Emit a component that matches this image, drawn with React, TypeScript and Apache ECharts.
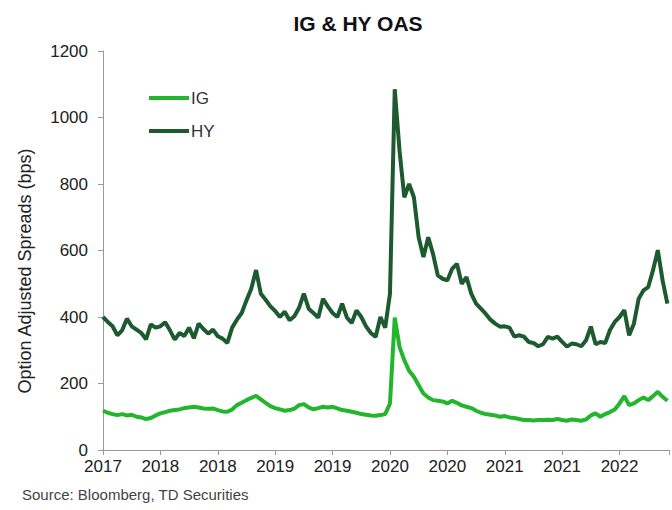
import React, { useEffect, useRef } from "react";
import * as echarts from "echarts";

const TITLE = "IG & HY OAS";
const SOURCE = "Source: Bloomberg, TD Securities";
const Y_NAME = "Option Adjusted Spreads (bps)";
const SERIES_NAMES = ["IG", "HY"];

// x tick labels, one every 6 months starting at the first tick
const xTickLabels = ["2017", "2018", "2018", "2019", "2019", "2020", "2020", "2021", "2021", "2022"];

const igValues = [
  118, 112, 108, 105, 108, 104, 106, 100, 98, 93,
  96, 104, 110, 114, 118, 120, 122, 126, 128, 130,
  128, 125, 124, 125, 120, 116, 115, 122, 135, 142,
  150, 157, 163, 152, 142, 132, 126, 122, 118, 120,
  124, 135, 138, 128, 122, 126, 130, 128, 130, 125,
  120, 118, 115, 112, 108, 106, 104, 103, 105, 108,
  140, 398, 310, 270, 238, 220, 195, 170, 158, 150,
  148, 146, 140, 148, 142, 134, 130, 126, 118, 112,
  108, 106, 104, 100, 102, 98, 96, 93, 90, 90,
  89, 90, 90, 91, 90, 93, 90, 88, 92, 90,
  88, 92, 104, 110, 100, 108, 114, 122, 140, 162,
  135, 140, 150, 158, 150, 162, 175, 160, 148,
];

const hyValues = [
  400, 385, 372, 345, 360, 395, 372, 362, 352, 333,
  378, 368, 372, 384, 360, 332, 352, 343, 368, 336,
  380, 364, 350, 362, 342, 335, 322, 368, 392, 412,
  450, 485, 541, 470, 452, 432, 418, 400, 416, 390,
  402, 428, 470, 425, 412, 398, 455, 432, 412, 400,
  440, 398, 382, 420, 400, 372, 352, 340, 400, 368,
  470, 1085, 900, 760, 800, 760, 640, 580, 640, 590,
  525, 515, 510, 545, 560, 500, 520, 470, 440, 425,
  410, 392, 380, 371, 372, 368, 341, 345, 341, 325,
  322, 312, 318, 340, 335, 341, 325, 311, 320, 318,
  312, 330, 371, 318, 325, 322, 361, 385, 400, 421,
  345, 380, 455, 480, 490, 541, 601, 510, 440,
];

const X_MAX = 59.17; // months shown from the first tick to the cut-off right edge

const FONT = "Liberation Sans, Arial, Helvetica, sans-serif";

export default function App() {
  const ref = useRef<HTMLDivElement>(null);

  useEffect(() => {
    if (!ref.current) return;
    const chart = echarts.init(ref.current, undefined, { renderer: "svg" });
    const toPoints = (vals: number[]) => vals.map((v, i) => [i / 2, v]);

    chart.setOption({
      animation: false,
      backgroundColor: "#ffffff",
      textStyle: { fontFamily: FONT },
      title: {
        text: TITLE,
        left: 353,
        top: 8,
        textAlign: "center",
        textStyle: { fontFamily: FONT, fontSize: 21, fontWeight: "bold", color: "#111" },
      },
      legend: {
        data: SERIES_NAMES,
        orient: "vertical",
        left: 149,
        top: 88,
        padding: 0,
        itemWidth: 40,
        itemHeight: 4,
        itemGap: 13,
        icon: "rect",
        textStyle: { fontFamily: FONT, fontSize: 17, color: "#333", lineHeight: 20, padding: [0, 0, 0, -3] },
      },
      grid: { left: 103, top: 51, right: 0, bottom: 60, containLabel: false },
      xAxis: {
        type: "value",
        min: 0,
        max: X_MAX,
        interval: 6,
        axisLine: { show: true, lineStyle: { color: "#999", width: 1 } },
        axisTick: { show: true, length: 5, lineStyle: { color: "#999" } },
        splitLine: { show: false },
        axisLabel: {
          margin: 8,
          fontFamily: FONT,
          fontSize: 17,
          color: "#222",
          formatter: (v: number) => {
            const k = v / 6;
            if (Math.abs(k - Math.round(k)) > 1e-6) return "";
            return xTickLabels[Math.round(k)] ?? "";
          },
        },
      },
      yAxis: {
        type: "value",
        min: 0,
        max: 1200,
        interval: 200,
        axisLine: { show: true, lineStyle: { color: "#999", width: 1 } },
        axisTick: { show: true, length: 5, lineStyle: { color: "#999" } },
        splitLine: { show: false },
        axisLabel: {
          margin: 15,
          fontFamily: FONT,
          fontSize: 17,
          color: "#222",
          formatter: (v: number) => String(v),
        },
      },
      graphic: [
        {
          type: "text",
          x: 25,
          y: 271,
          rotation: Math.PI / 2,
          style: {
            text: Y_NAME,
            fontFamily: FONT,
            fontSize: 18,
            fill: "#222",
            textAlign: "center",
            textVerticalAlign: "middle",
          },
        },
        {
          type: "text",
          x: 22,
          y: 494,
          style: {
            text: SOURCE,
            fontFamily: FONT,
            fontSize: 15,
            fill: "#444",
            textAlign: "left",
            textVerticalAlign: "middle",
          },
        },
      ],
      series: [
        {
          name: SERIES_NAMES[0],
          type: "line",
          data: toPoints(igValues),
          showSymbol: false,
          symbol: "none",
          lineStyle: { color: "#24b52e", width: 4 },
          itemStyle: { color: "#24b52e" },
          z: 3,
        },
        {
          name: SERIES_NAMES[1],
          type: "line",
          data: toPoints(hyValues),
          showSymbol: false,
          symbol: "none",
          lineStyle: { color: "#1d5a30", width: 4 },
          itemStyle: { color: "#1d5a30" },
          z: 2,
        },
      ],
    });

    return () => chart.dispose();
  }, []);

  return (
    <div
      ref={ref}
      style={{ position: "absolute", left: 0, top: 0, width: 672, height: 510, background: "#fff" }}
    />
  );
}
